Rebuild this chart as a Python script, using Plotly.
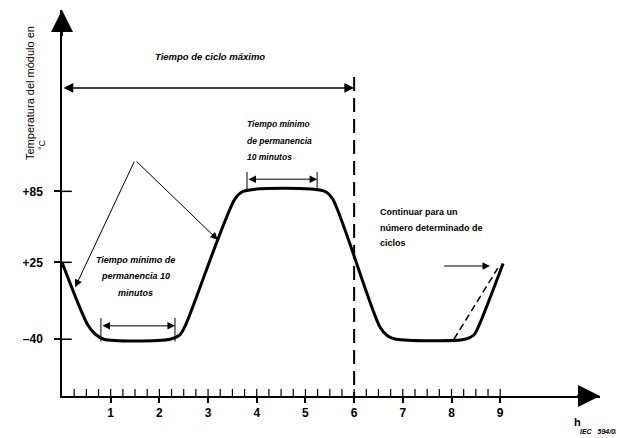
import plotly.graph_objects as go

# ---- data (time in h, temperature in °C) ----
curve_t = [0.0, 0.53, 0.68, 0.86, 2.22, 2.42, 2.53, 3.55, 3.72, 5.40, 5.56, 6.53, 6.69, 6.86, 8.28, 8.46, 8.56, 9.06]
curve_T = [25, -28, -35.6, -40, -40, -36.4, -28.8, 78.5, 85, 85, 78.5, -29.7, -37.3, -40, -40, -36.4, -28.8, 24]

alt_t = [8.05, 8.95]
alt_T = [-40, 20]

x_ticks = [1, 2, 3, 4, 5, 6, 7, 8, 9]
x_ticktext = ["1", "2", "3", "4", "5", "6", "7", "8", "9"]
x_minor_ticks = [0.25, 0.5, 0.75, 1, 1.25, 1.5, 1.75, 2, 2.25, 2.5, 2.75, 3, 3.25, 3.5, 3.75, 4,
                 4.25, 4.5, 4.75, 5, 5.25, 5.5, 5.75, 6, 6.25, 6.5, 6.75, 7, 7.25, 7.5, 7.75, 8,
                 8.25, 8.5, 8.75, 9]
y_ticks = [85, 25, -40]
y_ticktext = ["+85", "+25", "\u201340"]

cycle_end = 6
x_range = [0, 11.05]
y_range = [-88, 238.3]

# dwell markers: [start, end, level, bar_low, bar_high]
dwell_low = [0.80, 2.32, -28.7, -42, -22]
dwell_high = [3.80, 5.24, 95.3, 86, 101.3]

cycle_arrow_T = 172.4
dash_top_T = 181.6

title_cycle = "Tiempo de ciclo máximo"
dwell_high_lines = ["Tiempo mínimo", "de permanencia", "10 minutos"]
dwell_high_pos = [3.76, [141.9, 127.6, 114.0]]
dwell_low_lines = ["Tiempo mínimo de", "permanencia 10", "minutos"]
dwell_low_pos = [1.50, [27.0, 13.4, -0.9]]
cont_lines = ["Continuar para un", "número determinado de", "ciclos"]
cont_pos = [6.49, [67.5, 54.0, 41.3]]

# leader arrows: apex and targets
leader_apex = [1.50, 111.5]
leader_targets = [[0.27, 4.0], [3.20, 44.0]]
cont_arrow = [7.82, 8.79, 21.9]

FONT = "Liberation Sans"

# page body has an 8px margin: shift the figure content accordingly
OFF = 8
W, H = 624, 438
ML, MR, MT, MB = 62, 24, 10, 42  # plot area edges in screen pixels

fig = go.Figure()

# inner tick marks (half of each marker is clipped by the plot area)
fig.add_trace(go.Scatter(x=x_minor_ticks, y=[y_range[0]] * len(x_minor_ticks), mode="markers",
                         marker=dict(symbol="line-ns", size=10, line=dict(color="black", width=1.2)),
                         cliponaxis=True, showlegend=False, hoverinfo="skip"))
fig.add_trace(go.Scatter(x=[x_range[0]] * len(y_ticks), y=y_ticks, mode="markers",
                         marker=dict(symbol="line-ew", size=14, line=dict(color="black", width=1.5)),
                         cliponaxis=True, showlegend=False, hoverinfo="skip"))

# dashed cycle limit line
fig.add_trace(go.Scatter(x=[cycle_end, cycle_end], y=[dash_top_T, y_range[0]], mode="lines",
                         line=dict(color="black", width=2, dash="14px,7px"),
                         showlegend=False, hoverinfo="skip"))

# alternative ramp (dashed)
fig.add_trace(go.Scatter(x=alt_t, y=alt_T, mode="lines",
                         line=dict(color="black", width=1.5, dash="7px,4px"),
                         showlegend=False, hoverinfo="skip"))

# main temperature profile
fig.add_trace(go.Scatter(x=curve_t, y=curve_T, mode="lines",
                         line=dict(color="black", width=3, shape="spline", smoothing=0.8),
                         showlegend=False, hoverinfo="skip"))

# dwell end bars
bx, by = [], []
for d in (dwell_low, dwell_high):
    for xx in (d[0], d[1]):
        bx += [xx, xx, None]
        by += [d[3], d[4], None]
fig.add_trace(go.Scatter(x=bx, y=by, mode="lines", line=dict(color="black", width=1),
                         showlegend=False, hoverinfo="skip"))

ann = []

def arrow(x, y, ax, ay, width=1.0, size=1.0, head=2, both=False):
    d = dict(x=x, y=y, ax=ax, ay=ay, xref="x", yref="y", axref="x", ayref="y",
             text="", showarrow=True, arrowhead=head, arrowsize=size, arrowwidth=width,
             arrowcolor="black", standoff=0, startstandoff=0)
    if both:
        d.update(arrowside="end+start", startarrowhead=head, startarrowsize=size)
    ann.append(d)

# axis arrowheads
arrow(11.05, y_range[0], 10.55, y_range[0], width=2, size=2.2)
arrow(0, 238.3, 0, 215, width=2, size=2.2)

# cycle arrow
arrow(cycle_end, cycle_arrow_T, 0, cycle_arrow_T, width=1.5, size=1.3, both=True)

# dwell arrows
arrow(dwell_low[1], dwell_low[2], dwell_low[0], dwell_low[2], width=1, size=1.5, both=True)
arrow(dwell_high[1], dwell_high[2], dwell_high[0], dwell_high[2], width=1, size=1.5, both=True)

# leader arrows
for tx, ty in leader_targets:
    arrow(tx, ty, leader_apex[0], leader_apex[1], width=1, size=1.5)

# continue arrow
arrow(cont_arrow[1], cont_arrow[2], cont_arrow[0], cont_arrow[2], width=1, size=1.5)

def text(x, y, s, size=9, xanchor="center", italic=True, bold=True, angle=0, xref="x", yref="y"):
    t = s
    if italic:
        t = "<i>" + t + "</i>"
    if bold:
        t = "<b>" + t + "</b>"
    ann.append(dict(x=x, y=y, xref=xref, yref=yref, text=t, showarrow=False,
                    xanchor=xanchor, yanchor="middle", textangle=angle,
                    font=dict(family=FONT, size=size, color="black")))

text(3.04, 198.6, title_cycle, size=9.5)
for s, yy in zip(dwell_high_lines, dwell_high_pos[1]):
    text(dwell_high_pos[0], yy, s, size=8.5, xanchor="left")
for s, yy in zip(dwell_low_lines, dwell_low_pos[1]):
    text(dwell_low_pos[0], yy, s, size=9)
for s, yy in zip(cont_lines, cont_pos[1]):
    text(cont_pos[0], yy, s, size=9, xanchor="left", italic=False)

def px(xp):
    return (xp - ML) / (W - ML - MR)
def py(yp):
    return (H - MB - yp) / (H - MT - MB)

text(px(30), py(93), "Temperatura del módulo en", size=11, italic=False, bold=False, angle=-90,
     xref="paper", yref="paper")
text(px(42), py(145), "°C", size=9, italic=False, bold=False, angle=-90,
     xref="paper", yref="paper")
text(px(577), py(422), "h", size=11, italic=False, bold=True, xref="paper", yref="paper")
ann.append(dict(x=px(621), y=py(432), xref="paper", yref="paper", text="<b><i>IEC   594/05</i></b>",
                showarrow=False, xanchor="right", yanchor="middle",
                font=dict(family=FONT, size=7, color="black")))

fig.update_layout(
    width=W, height=H,
    margin=dict(l=ML - OFF, r=MR + OFF, t=MT - OFF, b=MB + OFF, pad=0),
    paper_bgcolor="white", plot_bgcolor="white",
    showlegend=False, annotations=ann,
    xaxis=dict(range=x_range, showline=True, linecolor="black", linewidth=1.5,
               tickmode="array", tickvals=x_ticks, ticktext=x_ticktext, ticks="outside", ticklen=5,
               tickwidth=1.5, tickcolor="black",
               tickfont=dict(family=FONT, size=12, color="black", weight="bold"),
               showgrid=False, zeroline=False),
    yaxis=dict(range=y_range, showline=True, linecolor="black", linewidth=1.5,
               tickmode="array", tickvals=y_ticks, ticktext=y_ticktext, ticks="outside", ticklen=6,
               tickwidth=1.5, tickcolor="black", ticklabelstandoff=9,
               tickfont=dict(family=FONT, size=12, color="black", weight="bold"),
               showgrid=False, zeroline=False),
)

fig.write_html("out.html")
